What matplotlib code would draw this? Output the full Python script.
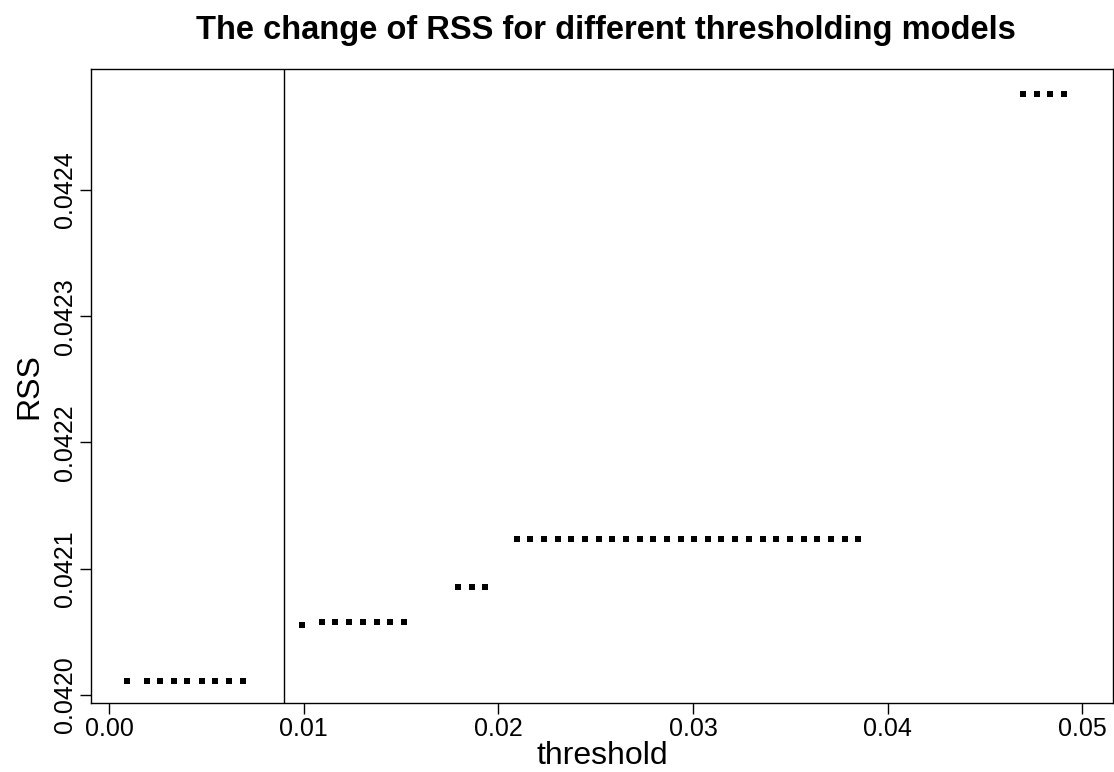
import matplotlib
matplotlib.use("Agg")
import matplotlib.pyplot as plt

plt.rcParams["font.family"] = ["Liberation Sans", "DejaVu Sans"]

# RSS of each thresholding model, grouped by plateau
threshold = [
    0.00094, 0.00194, 0.00263, 0.00335, 0.00403, 0.00478, 0.00546, 0.00615, 0.00687,
    0.00991, 0.01092, 0.01161, 0.01233, 0.01303, 0.01375, 0.01443, 0.01515,
    0.01794, 0.01863, 0.01931,
    0.02094, 0.02164, 0.02234, 0.02304, 0.02375, 0.02445, 0.02515, 0.02585, 0.02655,
    0.02725, 0.02796, 0.02866, 0.02936, 0.03006, 0.03076, 0.03146, 0.03217, 0.03287,
    0.03357, 0.03427, 0.03497, 0.03568, 0.03638, 0.03708, 0.03778, 0.03849,
    0.04696, 0.04765, 0.04833, 0.04905,
]
rss = (
    [0.0420113] * 9
    + [0.0420554] + [0.0420580] * 7
    + [0.0420857] * 3
    + [0.0421233] * 26
    + [0.0424760] * 4
)
chosen_threshold = 0.009

fig = plt.figure(figsize=(11.14, 7.72), dpi=100)
ax = fig.add_axes([91 / 1114, 1 - 702.7 / 772, (1113 - 91) / 1114, (702.7 - 69.3) / 772])

ax.plot(threshold, rss, linestyle="none", marker="s", markersize=4.8,
        color="black", markeredgewidth=0)
ax.axvline(chosen_threshold, color="black", linewidth=1.0)

ax.set_xlim(-0.000925, 0.05157)
ax.set_ylim(0.0419939, 0.0424956)
ax.set_xticks([0.0, 0.01, 0.02, 0.03, 0.04, 0.05])
ax.set_xticklabels(["0.00", "0.01", "0.02", "0.03", "0.04", "0.05"])
ax.set_yticks([0.0420, 0.0421, 0.0422, 0.0423, 0.0424])
ax.set_yticklabels(["0.0420", "0.0421", "0.0422", "0.0423", "0.0424"],
                   rotation=90, va="center")
ax.tick_params(axis="both", direction="out", length=8, width=1.0,
               labelsize=18, pad=2, color="black")

for s in ax.spines.values():
    s.set_linewidth(1.0)

ax.set_xlabel("threshold", fontsize=23, labelpad=0)
ax.set_ylabel("RSS", fontsize=23, labelpad=6)
fig.text(0.544, 0.961, "The change of RSS for different thresholding models",
         ha="center", va="center", fontsize=23.5, fontweight="bold")

fig.savefig("out.png", dpi=100)
